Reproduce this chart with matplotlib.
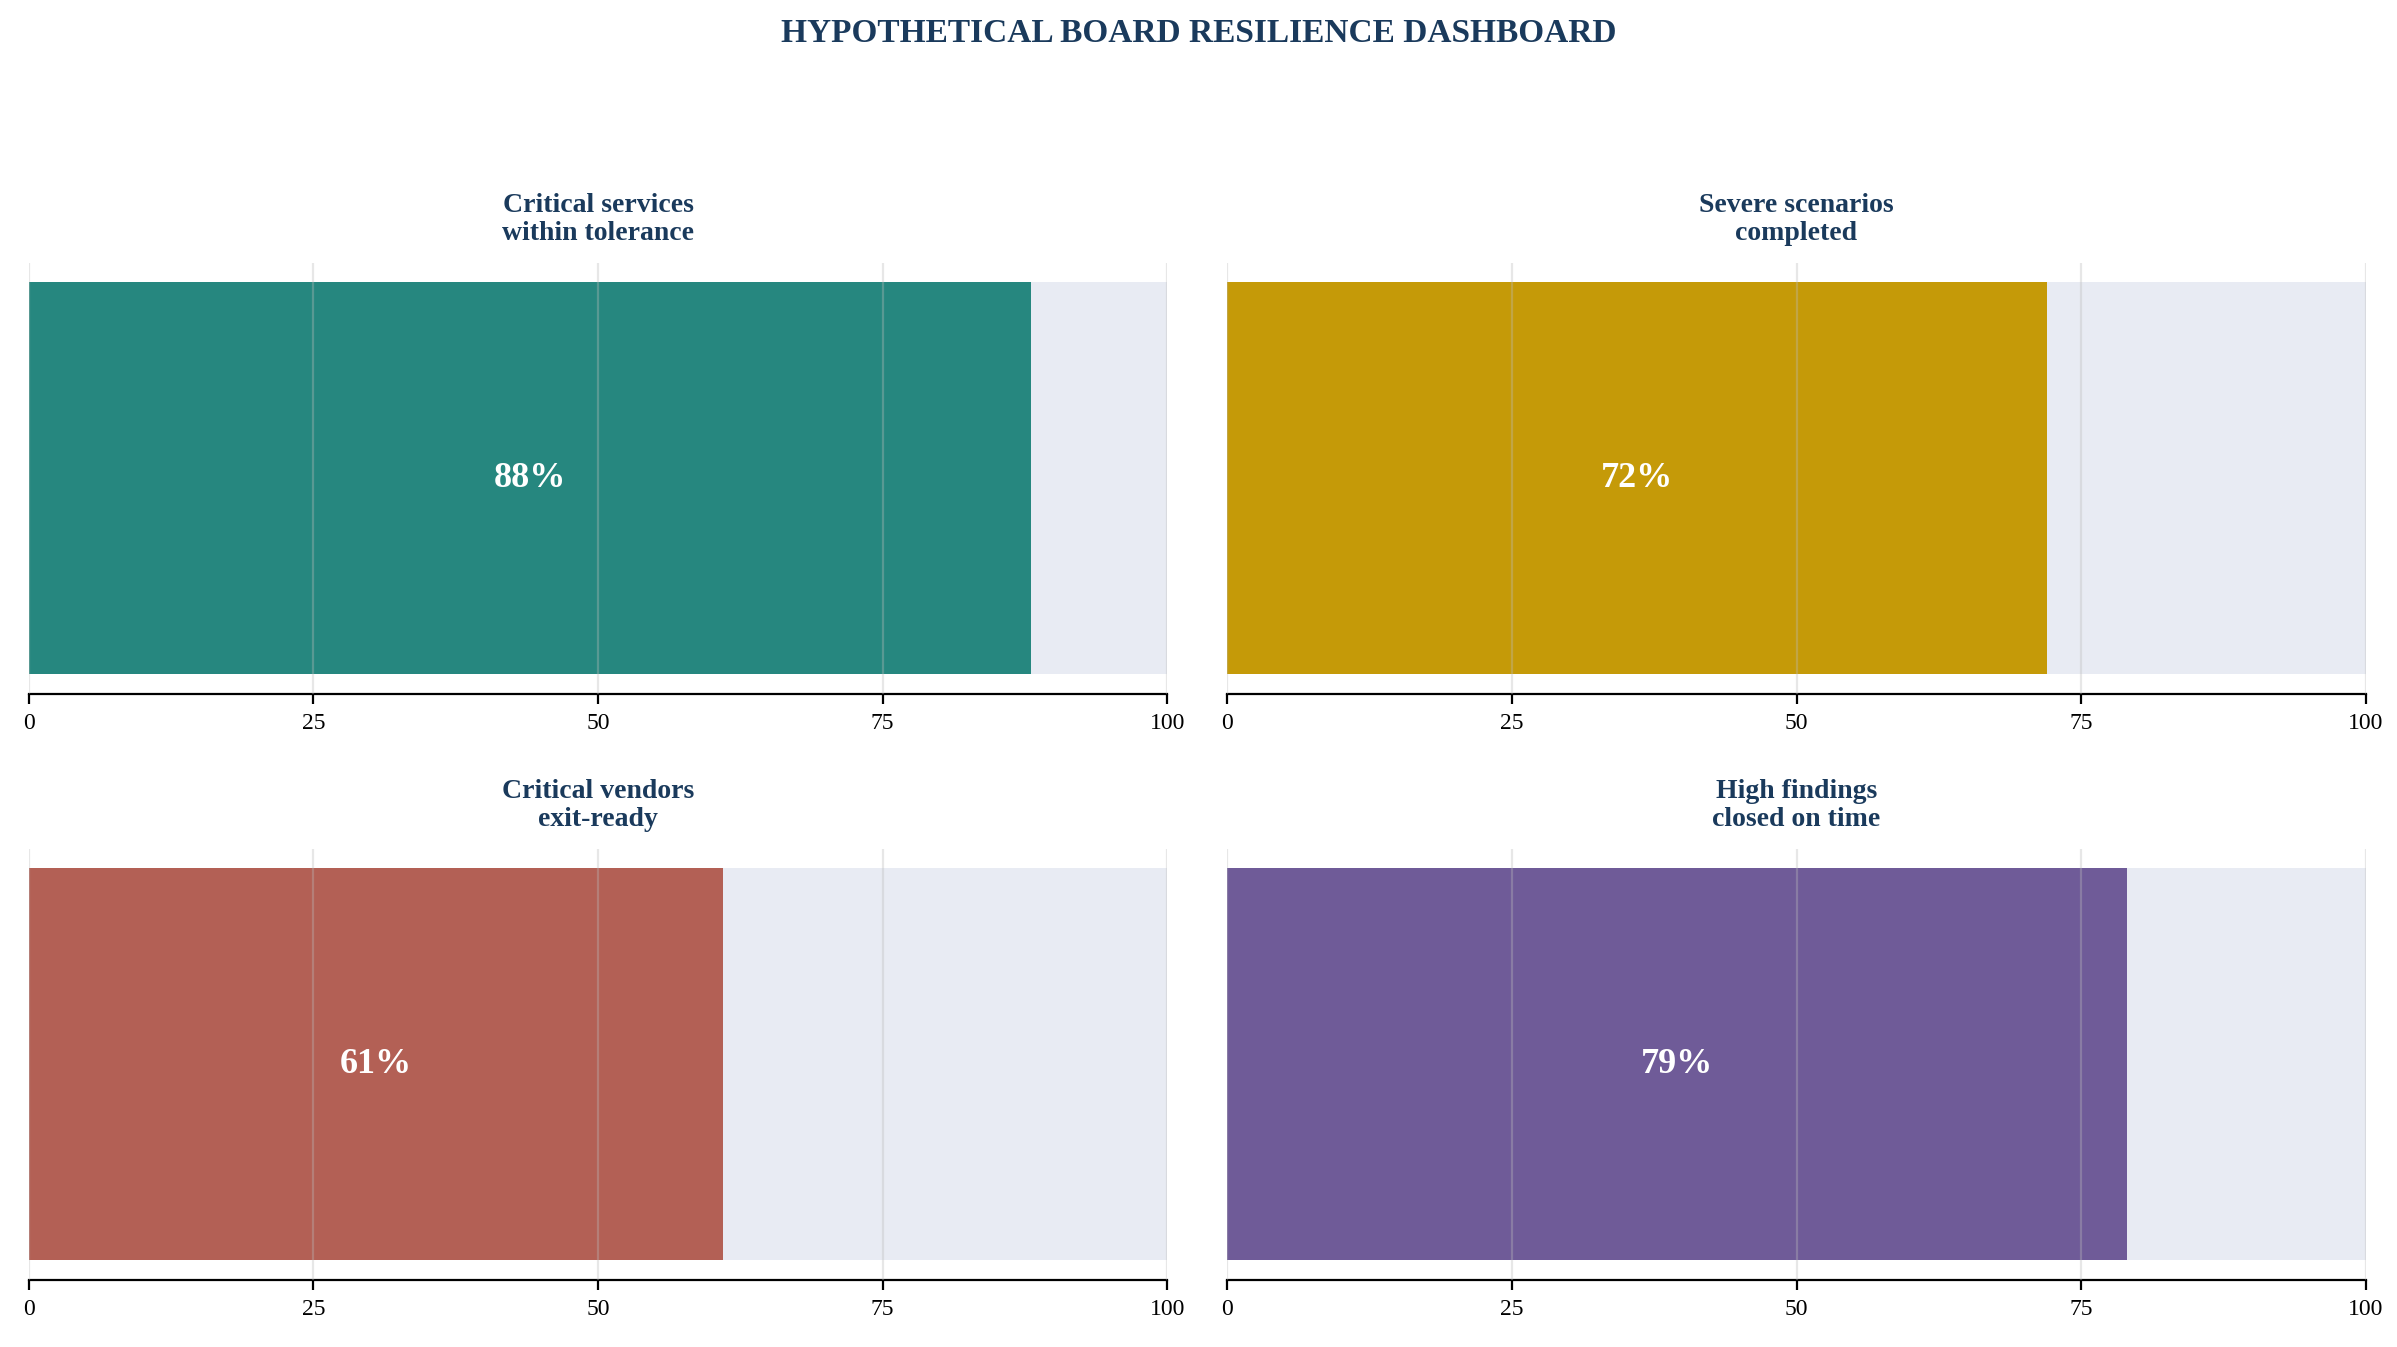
import matplotlib
matplotlib.use("Agg")
import matplotlib.pyplot as plt

titles = ["Critical services\nwithin tolerance", "Severe scenarios\ncompleted",
          "Critical vendors\nexit-ready", "High findings\nclosed on time"]
values = [88, 72, 61, 79]
colors = ["#26877f", "#c59a08", "#b36055", "#6f5b98"]
ticks = [0, 25, 50, 75, 100]

plt.rcParams['font.family'] = ['Liberation Serif', 'DejaVu Serif']
fig = plt.figure(figsize=(11.985, 6.735), dpi=200)
navy = "#1a3a5c"
fig.text(0.5, 0.975, "HYPOTHETICAL BOARD RESILIENCE DASHBOARD", ha='center', va='center',
         fontsize=12, fontweight='bold', color=navy)
pos = [(0.012, 0.485), (0.512, 0.485), (0.012, 0.05), (0.512, 0.05)]
for (l, b), t, v, c in zip(pos, titles, values, colors):
    ax = fig.add_axes([l, b, 0.475, 0.32])
    ax.barh(0, 100, height=1, color="#e8ebf3", zorder=1)
    ax.barh(0, v, height=1, color=c, zorder=2)
    for x in ticks:
        ax.axvline(x, color="#bbbbbb", alpha=0.35, lw=0.8, zorder=3)
    ax.text(v / 2, 0, f"{v}%", ha='center', va='center', color='white',
            fontsize=13, fontweight='bold', zorder=4)
    ax.set_xlim(0, 100)
    ax.set_ylim(-0.55, 0.55)
    ax.set_xticks(ticks)
    ax.set_yticks([])
    ax.tick_params(axis='x', labelsize=8.5)
    for s in ['top', 'left', 'right']:
        ax.spines[s].set_visible(False)
    ax.set_title(t, fontsize=10, fontweight='bold', color=navy, pad=8)
fig.savefig("out.png", dpi=200)
